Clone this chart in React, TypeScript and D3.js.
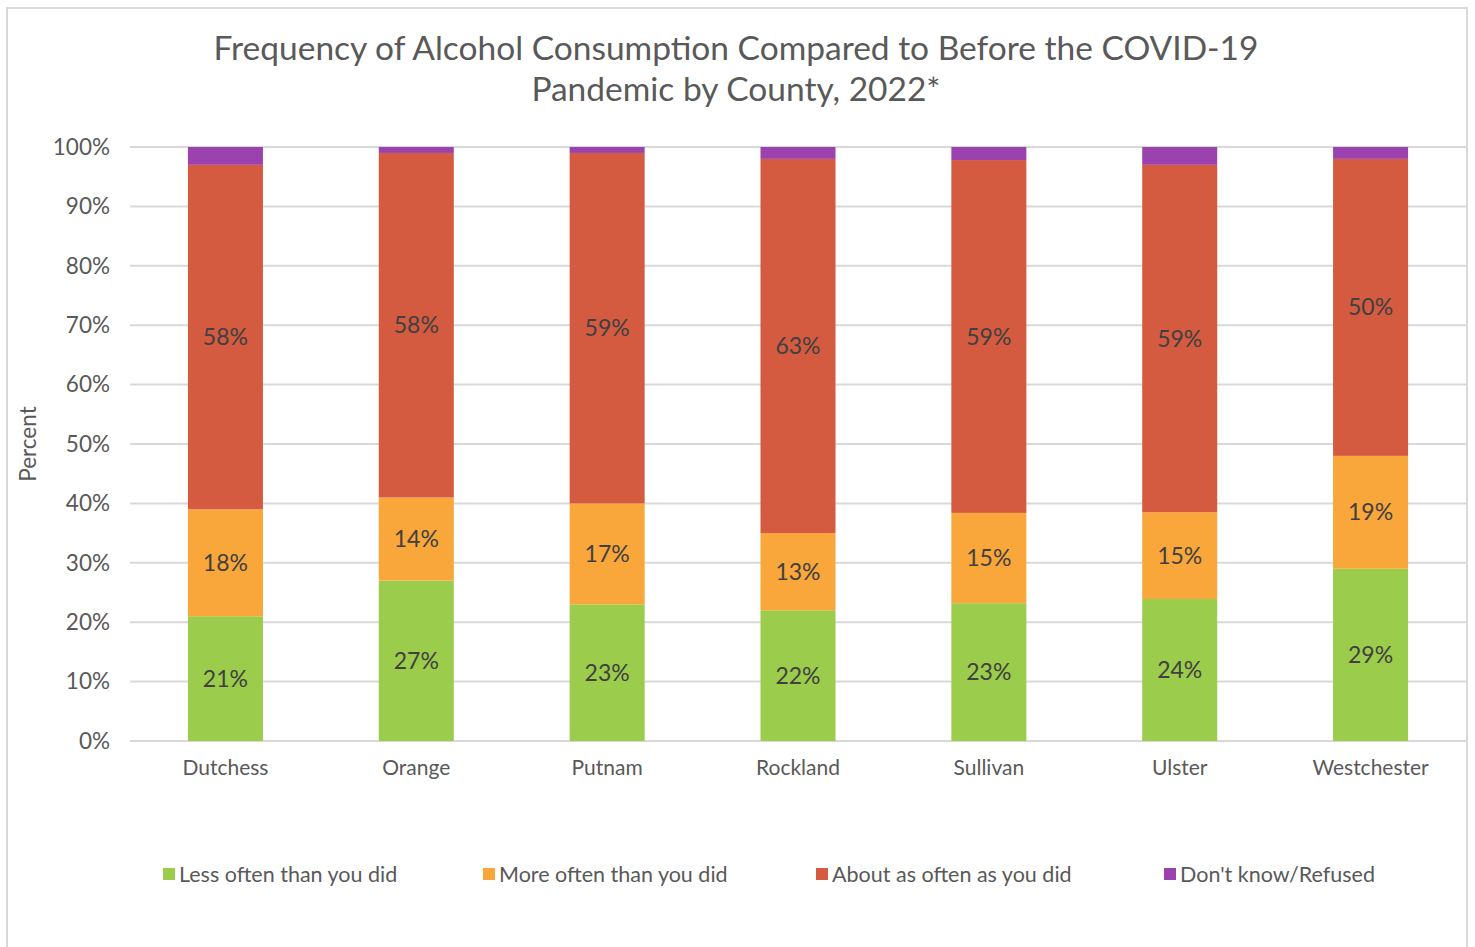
import React, { useEffect, useRef } from "react";
import * as d3 from "d3";

const counties = ["Dutchess", "Orange", "Putnam", "Rockland", "Sullivan", "Ulster", "Westchester"];
const seriesNames = [
  "Less often than you did",
  "More often than you did",
  "About as often as you did",
  "Don't know/Refused",
];
const lessOften = [21, 27, 23, 22, 23.2, 23.9, 29];
const moreOften = [18, 14, 17, 13, 15.2, 14.6, 19];
const aboutAsOften = [58, 58, 59, 63, 59.4, 58.5, 50];
const dontKnow = [3, 1, 1, 2, 2.2, 3, 2];
const yTicks = [0, 10, 20, 30, 40, 50, 60, 70, 80, 90, 100];
const colors = ["#9BCC4B", "#F9A63B", "#D45A40", "#9B42AE"];
const seriesValues = [lessOften, moreOften, aboutAsOften, dontKnow];

const FONT = "Lato, 'Open Sans', sans-serif";

const App: React.FC = () => {
  const svgRef = useRef<SVGSVGElement>(null);

  useEffect(() => {
    const svg = d3.select(svgRef.current);
    svg.selectAll("*").remove();

    // chart border
    svg.append("rect")
      .attr("x", 7).attr("y", 8)
      .attr("width", 1460).attr("height", 945)
      .attr("fill", "#fff")
      .attr("stroke", "#d9d9d9").attr("stroke-width", 2);

    const x = d3.scaleBand<string>()
      .domain(counties)
      .range([130, 1466])
      .paddingInner(0.607)
      .paddingOuter(0.3035);

    const y = d3.scaleLinear().domain([0, 100]).range([741, 147]);

    // title
    const title = svg.append("text")
      .attr("text-anchor", "middle")
      .attr("font-family", FONT)
      .attr("font-size", 33.5)
      .attr("fill", "#595959");
    title.append("tspan").attr("x", 736).attr("y", 60)
      .text("Frequency of Alcohol Consumption Compared to Before the COVID-19");
    title.append("tspan").attr("x", 736).attr("y", 101)
      .text("Pandemic by County, 2022*");

    // gridlines
    svg.append("g")
      .selectAll("line")
      .data(yTicks)
      .join("line")
      .attr("x1", 130).attr("x2", 1466)
      .attr("y1", (d) => y(d)).attr("y2", (d) => y(d))
      .attr("stroke", "#d9d9d9").attr("stroke-width", 2);

    // y tick labels
    svg.append("g")
      .selectAll("text")
      .data(yTicks)
      .join("text")
      .attr("x", 110)
      .attr("y", (d) => y(d))
      .attr("dy", "0.35em")
      .attr("text-anchor", "end")
      .attr("font-family", FONT)
      .attr("font-size", 22.5)
      .attr("fill", "#595959")
      .text((d) => `${d}%`);

    // y axis title
    svg.append("text")
      .attr("transform", "translate(36, 444) rotate(-90)")
      .attr("text-anchor", "middle")
      .attr("font-family", FONT)
      .attr("font-size", 22.5)
      .attr("fill", "#595959")
      .text("Percent");

    const rows = counties.map((c, i) => ({
      county: c,
      idx: i,
      s0: lessOften[i],
      s1: moreOften[i],
      s2: aboutAsOften[i],
      s3: dontKnow[i],
    }));
    const stack = d3.stack<any>().keys(["s0", "s1", "s2", "s3"]);
    const layers = stack(rows);

    layers.forEach((layer, li) => {
      const g = svg.append("g");
      g.selectAll("rect")
        .data(layer)
        .join("rect")
        .attr("x", (d: any) => x(d.data.county)!)
        .attr("width", x.bandwidth())
        .attr("y", (d) => y(d[1]))
        .attr("height", (d) => y(d[0]) - y(d[1]))
        .attr("fill", colors[li]);

      if (li < 3) {
        g.selectAll("text")
          .data(layer)
          .join("text")
          .attr("x", (d: any) => x(d.data.county)! + x.bandwidth() / 2)
          .attr("y", (d) => (y(d[0]) + y(d[1])) / 2)
          .attr("dy", "0.35em")
          .attr("text-anchor", "middle")
          .attr("font-family", FONT)
          .attr("font-size", 23)
          .attr("fill", "#404040")
          .text((d: any) => `${Math.round(seriesValues[li][d.data.idx])}%`);
      }
    });

    // category labels
    svg.append("g")
      .selectAll("text")
      .data(counties)
      .join("text")
      .attr("x", (d) => x(d)! + x.bandwidth() / 2)
      .attr("y", 768)
      .attr("dy", "0.35em")
      .attr("text-anchor", "middle")
      .attr("font-family", FONT)
      .attr("font-size", 21)
      .attr("fill", "#595959")
      .text((d) => d);

    // legend
    const legendX = [163, 483, 816, 1164];
    const legend = svg.append("g")
      .selectAll("g")
      .data(seriesNames)
      .join("g")
      .attr("transform", (_, i) => `translate(${legendX[i]}, 874)`);
    legend.append("rect")
      .attr("x", 0).attr("y", -6)
      .attr("width", 12).attr("height", 12)
      .attr("fill", (_, i) => colors[i]);
    legend.append("text")
      .attr("x", 16)
      .attr("dy", "0.35em")
      .attr("font-family", FONT)
      .attr("font-size", 21.5)
      .attr("fill", "#595959")
      .text((d) => d);
  }, []);

  return (
    <svg
      ref={svgRef}
      width={1475}
      height={947}
      style={{ position: "absolute", left: 0, top: 0 }}
    ></svg>
  );
};

export default App;
